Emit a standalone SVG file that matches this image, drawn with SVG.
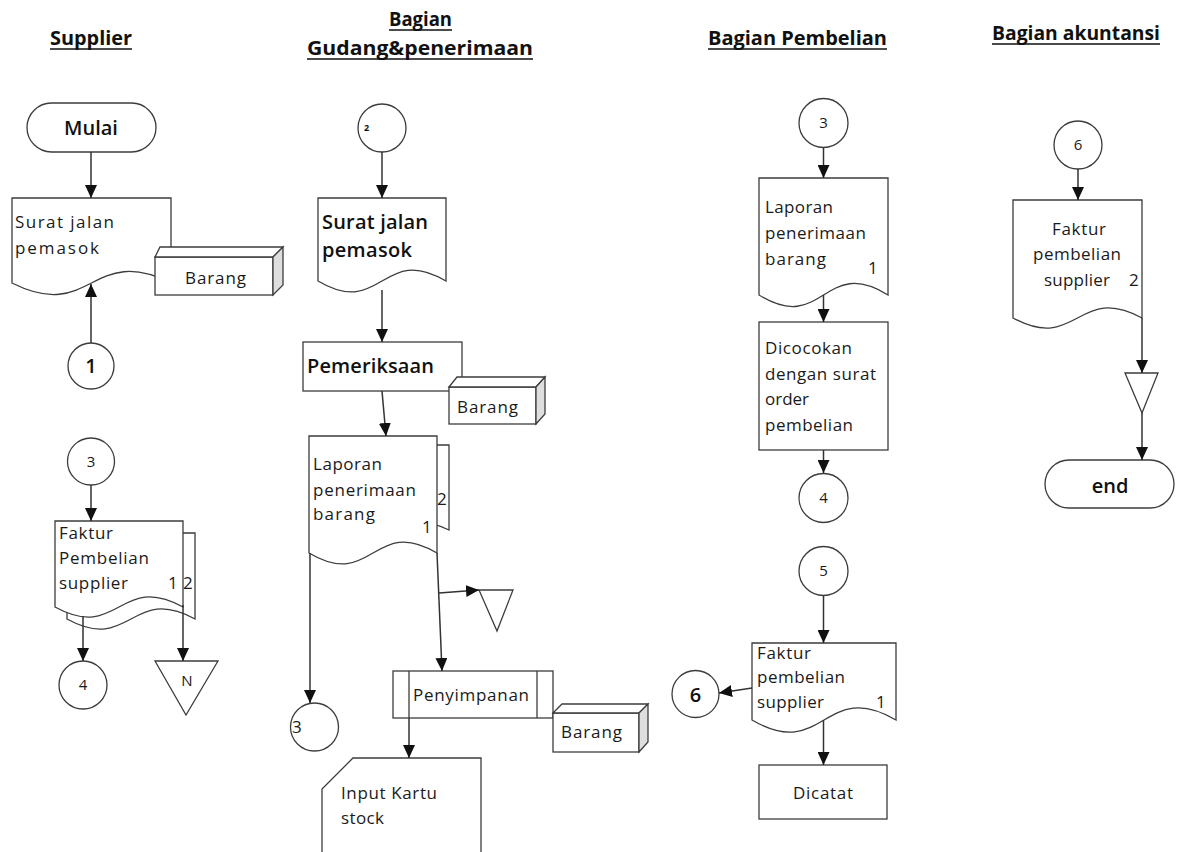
<svg xmlns="http://www.w3.org/2000/svg" width="1180" height="852" viewBox="0 0 1180 852">
  <defs>
    <marker id="arrow" markerUnits="userSpaceOnUse" markerWidth="14" markerHeight="12" refX="13" refY="6" orient="auto">
      <path d="M0,0 L13,6 L0,12 Z" fill="#111"/>
    </marker>
    <style>
      .shape { fill: #fff; stroke: #3c3c3c; stroke-width: 1.3; }
      .side { fill: #dedede; stroke: #3c3c3c; stroke-width: 1.3; }
      .edge { fill: none; stroke: #333; stroke-width: 1.5; marker-end: url(#arrow); }
      .ul { stroke: #111; stroke-width: 1.5; }
      .hd { font-family: "Open Sans", "Liberation Sans", sans-serif; font-weight: 700; font-size: 19.5px; fill: #111; }
      .t { font-family: "Open Sans", "Liberation Sans", sans-serif; font-size: 17px; fill: #1a1a1a; }
      .tb { font-family: "Open Sans", "Liberation Sans", sans-serif; font-size: 20px; font-weight: 600; fill: #111; }
      .n { font-family: "Open Sans", "Liberation Sans", sans-serif; font-size: 15px; fill: #1a1a1a; text-anchor: middle; }
      .nb { font-family: "Open Sans", "Liberation Sans", sans-serif; font-size: 20px; font-weight: 600; fill: #111; text-anchor: middle; }
    </style>
  </defs>
  <rect width="1180" height="852" fill="#fff"/>

  <!-- lane headings -->
  <g id="headers">
    <text class="hd" x="50" y="45" textLength="82" lengthAdjust="spacingAndGlyphs">Supplier</text>
    <line class="ul" x1="50" y1="49" x2="132" y2="49"/>
    <text class="hd" x="389" y="26" textLength="63" lengthAdjust="spacingAndGlyphs">Bagian</text>
    <line class="ul" x1="389" y1="30" x2="452" y2="30"/>
    <text class="hd" x="307" y="55" textLength="226" lengthAdjust="spacingAndGlyphs">Gudang&amp;penerimaan</text>
    <line class="ul" x1="307" y1="59" x2="533" y2="59"/>
    <text class="hd" x="708" y="45" textLength="179" lengthAdjust="spacingAndGlyphs">Bagian Pembelian</text>
    <line class="ul" x1="708" y1="49" x2="887" y2="49"/>
    <text class="hd" x="992" y="40" textLength="168" lengthAdjust="spacingAndGlyphs">Bagian akuntansi</text>
    <line class="ul" x1="992" y1="44" x2="1160" y2="44"/>
  </g>

  <!-- Supplier lane -->
  <g id="mulai">
    <rect class="shape" x="27" y="103" width="129" height="49" rx="24.5"/>
    <text class="nb" x="91" y="135" font-size="21">Mulai</text>
  </g>
  <g id="surat-jalan-supplier">
    <path class="shape" d="M12,198 H171 V283 C91.5,243 91.5,323 12,283 Z"/>
    <text class="t" x="15" y="228" textLength="99">Surat jalan</text>
    <text class="t" x="15" y="254" textLength="84">pemasok</text>
  </g>
  <g id="barang-supplier">
    <rect class="shape" x="155" y="257" width="118" height="38"/>
    <polygon class="shape" points="155,257 160,247 283,247 273,257"/>
    <polygon class="side" points="273,257 283,247 283,285 273,295"/>
    <text class="t" x="185" y="284" textLength="61">Barang</text>
  </g>
  <g id="konektor-1">
    <circle class="shape" cx="91" cy="366" r="23"/>
    <text class="nb" x="91" y="373" font-size="19">1</text>
  </g>
  <g id="konektor-3-supplier">
    <circle class="shape" cx="91" cy="461.5" r="23.5"/>
    <text class="n" x="91" y="467">3</text>
  </g>
  <g id="faktur-supplier">
    <path class="shape" d="M67,533 H195 V619 C131,584 131,654 67,619 Z"/>
    <path class="shape" d="M55,521 H183 V607 C119,572 119,642 55,607 Z"/>
    <text class="t" x="59" y="539" textLength="54">Faktur</text>
    <text class="t" x="59" y="564" textLength="90">Pembelian</text>
    <text class="t" x="59" y="589" textLength="69">supplier</text>
    <text class="t" x="168" y="589">1</text>
    <text class="t" x="183" y="589">2</text>
  </g>
  <g id="konektor-4-supplier">
    <circle class="shape" cx="83" cy="685" r="24"/>
    <text class="n" x="83" y="690">4</text>
  </g>
  <g id="arsip-n">
    <polygon class="shape" points="155,661 218,661 186,715"/>
    <text class="n" x="187" y="686" font-size="16">N</text>
  </g>

  <!-- Gudang & penerimaan lane -->
  <g id="konektor-2">
    <circle class="shape" cx="382" cy="128" r="24"/>
    <text x="364" y="131" font-family="Open Sans, Liberation Sans, sans-serif" font-size="9" font-weight="700" fill="#111">2</text>
  </g>
  <g id="surat-jalan-gudang">
    <path class="shape" d="M318,198 H446 V281 C382,243 382,319 318,281 Z"/>
    <text class="tb" x="322" y="229" textLength="106">Surat jalan</text>
    <text class="tb" x="322" y="257" textLength="90">pemasok</text>
  </g>
  <g id="pemeriksaan">
    <rect class="shape" x="303" y="342" width="159" height="49"/>
    <text class="tb" x="307" y="373" textLength="127">Pemeriksaan</text>
  </g>
  <g id="barang-pemeriksaan">
    <rect class="shape" x="449" y="387" width="87" height="37"/>
    <polygon class="shape" points="449,387 457,377 545,377 536,387"/>
    <polygon class="side" points="536,387 545,377 545,414 536,424"/>
    <text class="t" x="457" y="413" textLength="61">Barang</text>
  </g>
  <g id="laporan-gudang">
    <path class="shape" d="M321,445 H449 V530 C385,500 385,560 321,530 Z"/>
    <path class="shape" d="M309,436 H437 V553 C373,515 373,591 309,553 Z"/>
    <text class="t" x="313" y="470" textLength="69">Laporan</text>
    <text class="t" x="313" y="496" textLength="103">penerimaan</text>
    <text class="t" x="313" y="520" textLength="62">barang</text>
    <text class="t" x="422" y="533">1</text>
    <text class="t" x="437" y="505">2</text>
  </g>
  <g id="arsip-gudang">
    <polygon class="shape" points="479,590 513,590 497,631"/>
  </g>
  <g id="konektor-3-gudang">
    <circle class="shape" cx="314.5" cy="727" r="24"/>
    <text class="t" x="292" y="733" font-size="15">3</text>
  </g>
  <g id="penyimpanan">
    <rect class="shape" x="393" y="671" width="160" height="47"/>
    <line class="shape" x1="409" y1="671" x2="409" y2="718"/>
    <line class="shape" x1="537" y1="671" x2="537" y2="718"/>
    <text class="t" x="413" y="701" textLength="116">Penyimpanan</text>
  </g>
  <g id="barang-penyimpanan">
    <rect class="shape" x="553" y="713" width="86" height="39"/>
    <polygon class="shape" points="553,713 562,704 648,704 639,713"/>
    <polygon class="side" points="639,713 648,704 648,742 639,752"/>
    <text class="t" x="561" y="738" textLength="61">Barang</text>
  </g>
  <g id="kartu-stock">
    <path class="shape" d="M353,758 H481 V862 H322 V789 Z"/>
    <text class="t" x="341" y="799" textLength="96">Input Kartu</text>
    <text class="t" x="341" y="824" textLength="43">stock</text>
  </g>

  <!-- Bagian Pembelian lane -->
  <g id="konektor-3-pembelian">
    <circle class="shape" cx="823.5" cy="123" r="24.5"/>
    <text class="n" x="823.5" y="128">3</text>
  </g>
  <g id="laporan-pembelian">
    <path class="shape" d="M759,178 H888 V295 C823.5,255 823.5,335 759,295 Z"/>
    <text class="t" x="765" y="213" textLength="68">Laporan</text>
    <text class="t" x="765" y="239" textLength="101">penerimaan</text>
    <text class="t" x="765" y="265" textLength="61">barang</text>
    <text class="t" x="868" y="274">1</text>
  </g>
  <g id="dicocokan">
    <rect class="shape" x="759" y="322" width="129" height="128"/>
    <text class="t" x="765" y="354" textLength="87">Dicocokan</text>
    <text class="t" x="765" y="380" textLength="111">dengan surat</text>
    <text class="t" x="765" y="405" textLength="44">order</text>
    <text class="t" x="765" y="431" textLength="88">pembelian</text>
  </g>
  <g id="konektor-4-pembelian">
    <circle class="shape" cx="823.5" cy="498" r="24.5"/>
    <text class="n" x="823.5" y="503">4</text>
  </g>
  <g id="konektor-5">
    <circle class="shape" cx="823.5" cy="571" r="24.5"/>
    <text class="n" x="823.5" y="576">5</text>
  </g>
  <g id="faktur-pembelian">
    <path class="shape" d="M752,643 H896 V720 C824,678 824,762 752,720 Z"/>
    <text class="t" x="757" y="659" font-size="16" textLength="54">Faktur</text>
    <text class="t" x="757" y="683" font-size="16" textLength="88">pembelian</text>
    <text class="t" x="757" y="708" font-size="16" textLength="67">supplier</text>
    <text class="t" x="876" y="708">1</text>
  </g>
  <g id="konektor-6-pembelian">
    <circle class="shape" cx="695.5" cy="694" r="23.5"/>
    <text class="nb" x="695.5" y="702" font-size="21">6</text>
  </g>
  <g id="dicatat">
    <rect class="shape" x="759" y="765" width="128" height="54"/>
    <text class="t" x="793" y="799" textLength="60">Dicatat</text>
  </g>

  <!-- Bagian akuntansi lane -->
  <g id="konektor-6-akuntansi">
    <circle class="shape" cx="1078" cy="145" r="24"/>
    <text class="n" x="1078" y="150">6</text>
  </g>
  <g id="faktur-akuntansi">
    <path class="shape" d="M1013,200 H1142 V318 C1077.5,283 1077.5,353 1013,318 Z"/>
    <text class="t" x="1052" y="235" textLength="54">Faktur</text>
    <text class="t" x="1033" y="260" textLength="88">pembelian</text>
    <text class="t" x="1044" y="286" textLength="66">supplier</text>
    <text class="t" x="1129" y="286">2</text>
  </g>
  <g id="arsip-akuntansi">
    <polygon class="shape" points="1125,373 1158,373 1142,413"/>
  </g>
  <g id="end">
    <rect class="shape" x="1045" y="460" width="129" height="48" rx="24"/>
    <text class="nb" x="1110" y="493" font-size="21">end</text>
  </g>

  <!-- connectors -->
  <g id="connectors">
    <line class="edge" x1="91" y1="152" x2="91" y2="198"/>
    <line class="edge" x1="91" y1="343" x2="91" y2="284"/>
    <line class="edge" x1="91" y1="485" x2="91" y2="521"/>
    <line class="edge" x1="83" y1="616" x2="83" y2="661"/>
    <line class="edge" x1="183" y1="605" x2="183" y2="661"/>
    <line class="edge" x1="382" y1="152" x2="382" y2="198"/>
    <line class="edge" x1="382" y1="290" x2="382" y2="342"/>
    <line class="edge" x1="382" y1="391" x2="386" y2="436"/>
    <line class="edge" x1="310" y1="553" x2="310" y2="703"/>
    <line class="edge" x1="437" y1="553" x2="442" y2="671"/>
    <line class="edge" x1="439" y1="593" x2="479" y2="590"/>
    <line class="edge" x1="409" y1="718" x2="409" y2="758"/>
    <line class="edge" x1="823.5" y1="148" x2="823.5" y2="178"/>
    <line class="edge" x1="823.5" y1="295" x2="823.5" y2="322"/>
    <line class="edge" x1="823.5" y1="450" x2="823.5" y2="473"/>
    <line class="edge" x1="823.5" y1="596" x2="823.5" y2="643"/>
    <line class="edge" x1="752" y1="688" x2="719" y2="693"/>
    <line class="edge" x1="823.5" y1="720" x2="823.5" y2="765"/>
    <line class="edge" x1="1078" y1="169" x2="1078" y2="200"/>
    <line class="edge" x1="1142" y1="318" x2="1142" y2="373"/>
    <line class="edge" x1="1142" y1="413" x2="1142" y2="460"/>
  </g>
</svg>
